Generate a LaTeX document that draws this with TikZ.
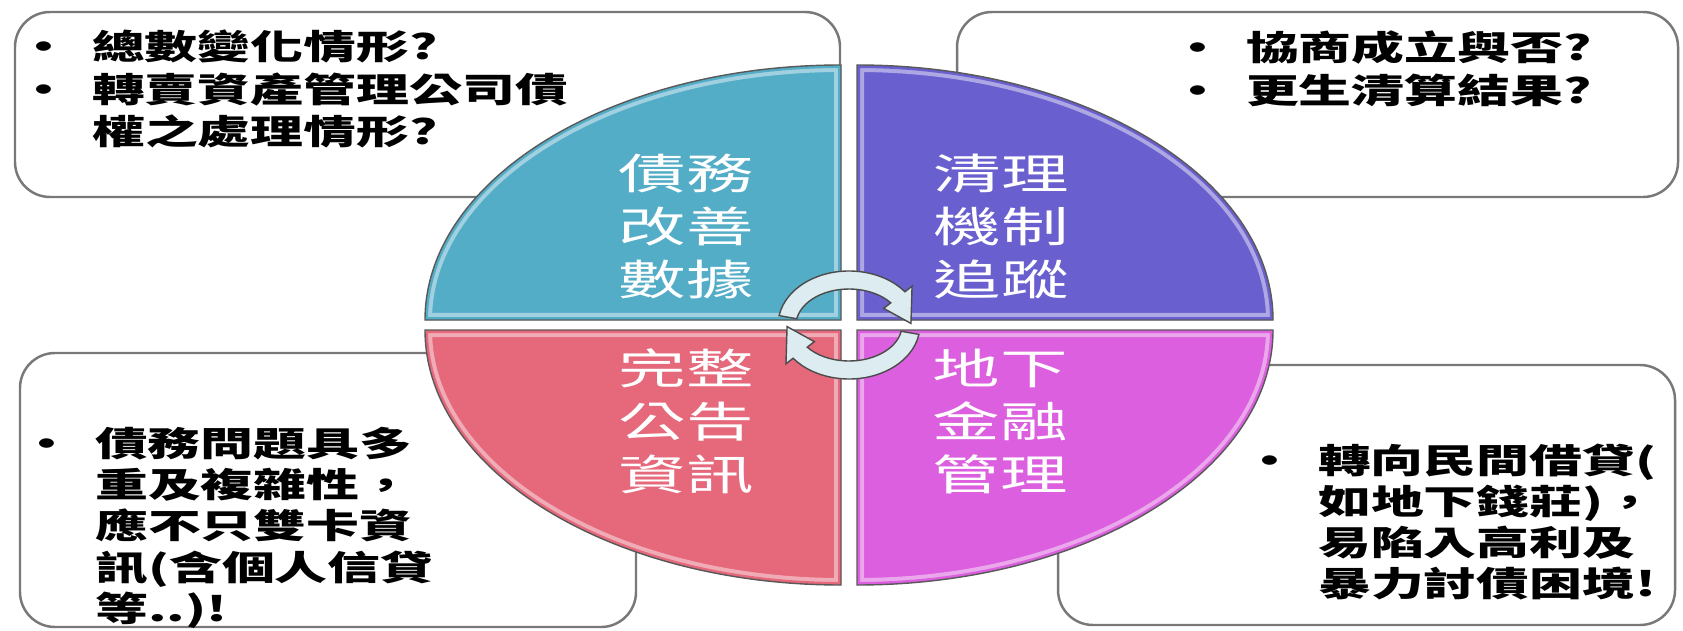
\documentclass[tikz,border=0pt]{standalone}
\usepackage{fontspec}
\usetikzlibrary{positioning}
\newfontfamily\cjk{Noto Sans CJK TC}
\definecolor{quadteal}{RGB}{84,173,199}
\definecolor{quadpurple}{RGB}{106,95,207}
\definecolor{quadpink}{RGB}{229,104,123}
\definecolor{quadmagenta}{RGB}{219,95,222}
\definecolor{boxgray}{RGB}{120,120,120}
\definecolor{cycfill}{RGB}{221,236,240}
\newcommand\blt{\makebox[0.48cm][l]{•}}
\newcommand\boxlabel[1]{\scalebox{1.55}[1]{\begin{tabular}[t]{@{}l@{}l@{}}#1\end{tabular}}}
\newcommand\quadlabel[1]{\scalebox{1.6}[1]{\begin{tabular}{@{}c@{}}#1\end{tabular}}}

\tikzset{
 infobox/.style={draw=boxgray, line width=0.7pt, rounded corners=0.35cm, fill=white},
 quad/.style={draw=black!65, line width=0.4pt},
 cycarrow/.style={fill=cycfill, draw=black!70, line width=0.4pt},
 boxtext/.style={font=\cjk\bfseries\fontsize{9.7}{#1}\selectfont, anchor=base west, inner sep=0pt},
 boxtext/.default=12,
 quadtext/.style={font=\cjk\fontsize{12}{15}\selectfont, text=white, inner sep=0pt}
}

\begin{document}
\begin{tikzpicture}[x=0.01cm, y=0.01cm]
 \useasboundingbox (0,0) rectangle (1683,630);
 \draw[infobox](15,433) rectangle (840,618);
 \draw[infobox](957,433) rectangle (1678,618);
 \draw[infobox](20,3) rectangle (636,277);
 \draw[infobox](1058,5) rectangle (1675,265);

 \foreach \cx/\cy/\sa/\ea/\col in {841/310/90/180/quadteal, 857/310/0/90/quadpurple, 841/300/180/270/quadpink, 857/300/270/360/quadmagenta}{
  \fill[\col](\cx,\cy) -- ++(\sa:416 and 255) arc[start angle=\sa, end angle=\ea, x radius=416, y radius=255] -- cycle;
  \begin{scope}
   \clip(\cx,\cy) -- ++(\sa:416 and 255) arc[start angle=\sa, end angle=\ea, x radius=416, y radius=255] -- cycle;
   \draw[white, opacity=0.45, line width=0.14cm](\cx,\cy) -- ++(\sa:416 and 255) arc[start angle=\sa, end angle=\ea, x radius=416, y radius=255] -- cycle;
   \draw[\col, line width=0.06cm](\cx,\cy) -- ++(\sa:416 and 255) arc[start angle=\sa, end angle=\ea, x radius=416, y radius=255] -- cycle;
  \end{scope}
  \draw[quad](\cx,\cy) -- ++(\sa:416 and 255) arc[start angle=\sa, end angle=\ea, x radius=416, y radius=255] -- cycle;
 }

 \begin{scope}[shift={(849,305)}]
  \filldraw[cycarrow](170:71 and 54) arc[start angle=170, end angle=38, x radius=71, y radius=54] -- (38:80 and 63) -- (2:62 and 45) -- (38:44 and 27) -- (38:53 and 36) arc[start angle=38, end angle=170, x radius=53, y radius=36] -- cycle;
  \filldraw[cycarrow](350:71 and 54) arc[start angle=350, end angle=218, x radius=71, y radius=54] -- (218:80 and 63) -- (182:62 and 45) -- (218:44 and 27) -- (218:53 and 36) arc[start angle=218, end angle=350, x radius=53, y radius=36] -- cycle;
 \end{scope}

 \node[quadtext](debt) at (686,398){\quadlabel{債務\\改善\\數據}};
 \node[quadtext](clear) at (1001,398){\quadlabel{清理\\機制\\追蹤}};
 \node[quadtext](notice) at (686,203){\quadlabel{完整\\公告\\資訊}};
 \node[quadtext](under) at (1000,203){\quadlabel{地下\\金融\\管理}};

 \node[boxtext](debtNote) at (17,570){\boxlabel{\blt&總數變化情形?\\\blt&轉賣資產管理公司債\\&權之處理情形?}};
 \node[boxtext](clearNote) at (1171,569){\boxlabel{\blt&協商成立與否?\\\blt&更生清算結果?}};
 \node[boxtext=11.3](noticeNote) at (20,174){\boxlabel{\blt&債務問題具多\\&重及複雜性，\\&應不只雙卡資\\&訊(含個人信貸\\&等..)!}};
 \node[boxtext=11](underNote) at (1243,157){\boxlabel{\blt&轉向民間借貸(\\&如地下錢莊)，\\&易陷入高利及\\&暴力討債困境!}};
\end{tikzpicture}
\end{document}
